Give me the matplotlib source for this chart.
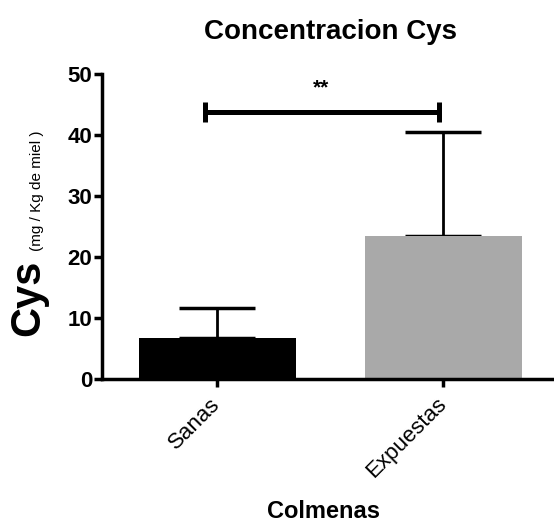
import matplotlib.pyplot as plt

plt.rcParams['font.family'] = ['Liberation Sans', 'DejaVu Sans']

# Data
groups = ['Sanas', 'Expuestas']
means = [6.7, 23.5]
errors = [5.0, 17.0]
colors = ['#000000', '#a9a9a9']
sig_y = 43.8
sig_from, sig_to = -0.053, 0.982
sig_label = '**'

fig = plt.figure(figsize=(5.54, 5.25), dpi=100)
ax = fig.add_axes([102 / 554, 146 / 525, 452 / 554, 305 / 525])

x = range(len(groups))
ax.bar(x, means, width=0.695, color=colors, zorder=2)
ax.errorbar(x, means, yerr=[[0, 0], errors], fmt='none', ecolor='black',
            elinewidth=2, capsize=27.5, capthick=2.5, zorder=1)

# significance bracket
mid = (sig_from + sig_to) / 2
ax.errorbar([mid], [sig_y], xerr=[(sig_to - sig_from) / 2], fmt='none',
            ecolor='black', elinewidth=3.6, capsize=7, capthick=3.6)
ax.text(0.46, sig_y + 2.3, sig_label, ha='center', va='bottom', fontsize=15,
        fontweight='bold')

ax.set_xlim(-0.509, 1.49)
ax.set_ylim(0, 50)
ax.set_yticks([0, 10, 20, 30, 40, 50])
ax.set_xticks(list(x))
ax.set_xticklabels(groups, rotation=45, ha='right', va='center',
                   rotation_mode='anchor', fontsize=16)
for lbl in ax.get_yticklabels():
    lbl.set_fontweight('bold')
    lbl.set_fontsize(16)

for s in ['top', 'right']:
    ax.spines[s].set_visible(False)
for s in ['left', 'bottom']:
    ax.spines[s].set_linewidth(2.5)
ax.tick_params(width=2.5, length=6, direction='out', pad=1)
ax.tick_params(axis='x', pad=10)

fig.text(330 / 554, 1 - 32 / 525, 'Concentracion Cys', ha='center', va='center',
         fontsize=20, fontweight='bold')
fig.text(323 / 554, 1 - 512 / 525, 'Colmenas', ha='center', va='center',
         fontsize=17, fontweight='bold')
fig.text(28 / 554, 1 - 298 / 525, 'Cys', rotation=90, ha='center', va='center',
         fontsize=30, fontweight='bold')
fig.text(37 / 554, 1 - 191 / 525, '(mg / Kg de miel )', rotation=90, ha='center',
         va='center', fontsize=11)

fig.savefig('out.png', dpi=100)
